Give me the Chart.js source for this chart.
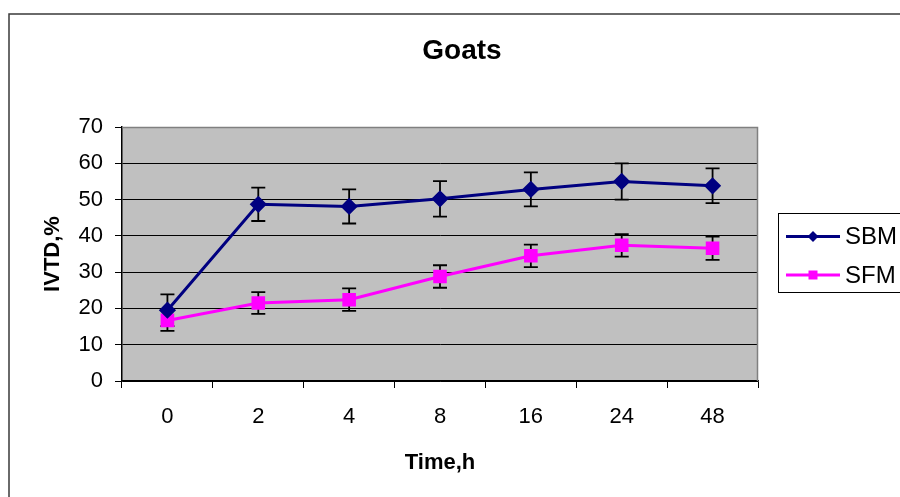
<!DOCTYPE html>
<html>
<head>
<meta charset="utf-8">
<script src="https://cdn.jsdelivr.net/npm/chart.js@4"></script>
<style>
  html, body { margin: 0; padding: 0; background: #fff; }
  #wrap { width: 900px; height: 497px; }
</style>
</head>
<body>
<div id="wrap"><canvas id="myChart" width="900" height="497"></canvas></div>
<script>
const times = ['0', '2', '4', '8', '16', '24', '48'];
const sbm = [19.5, 48.7, 48.1, 50.2, 52.8, 55.0, 53.8];
const sbmErr = [4.4, 4.6, 4.7, 4.9, 4.7, 5.0, 4.8];
const sfm = [16.7, 21.5, 22.4, 28.8, 34.5, 37.4, 36.6];
const sfmErr = [2.9, 3.0, 3.1, 3.1, 3.1, 3.1, 3.2];
const yTicks = [0, 10, 20, 30, 40, 50, 60, 70];
const titleText = 'Goats';

const fontName = '"Liberation Sans", Arial, sans-serif';

// grey plot area, frame round the whole chart, title, legend
const decor = {
  id: 'decor',
  beforeDraw(chart) {
    const c = chart.ctx, a = chart.chartArea;
    c.save();
    c.fillStyle = '#fff';
    c.fillRect(0, 0, chart.width, chart.height);
    c.fillStyle = '#c0c0c0';
    c.fillRect(a.left, a.top, a.right - a.left, a.bottom - a.top);
    c.strokeStyle = '#3a3a3a';
    c.lineWidth = 1.5;
    c.strokeRect(9, 14, 1000, 1000);
    c.fillStyle = '#000';
    c.font = 'bold 28px ' + fontName;
    c.textAlign = 'center';
    c.textBaseline = 'middle';
    c.fillText(titleText, 462, 51);
    c.restore();
  },
  beforeDatasetsDraw(chart) {
    const c = chart.ctx, a = chart.chartArea;
    c.save();
    c.strokeStyle = '#808080';
    c.lineWidth = 1.5;
    c.beginPath();
    c.moveTo(a.left, a.top + 0.5);
    c.lineTo(a.right - 0.5, a.top + 0.5);
    c.lineTo(a.right - 0.5, a.bottom);
    c.stroke();
    c.restore();
  },
  afterDraw(chart) {
    const c = chart.ctx;
    c.save();
    c.strokeStyle = '#000';
    c.lineWidth = 1;
    c.strokeRect(778.5, 213.5, 130, 79);
    chart.data.datasets.forEach((ds, i) => {
      const y = 236.5 + i * 38.5;
      c.strokeStyle = ds.borderColor;
      c.lineWidth = 3;
      c.beginPath();
      c.moveTo(786, y);
      c.lineTo(840, y);
      c.stroke();
      c.fillStyle = ds.borderColor;
      c.beginPath();
      if (ds.pointStyle === 'rectRot') {
        c.moveTo(813, y - 5.5);
        c.lineTo(818.5, y);
        c.lineTo(813, y + 5.5);
        c.lineTo(807.5, y);
        c.closePath();
      } else {
        c.rect(808.5, y - 4.5, 9, 9);
      }
      c.fill();
      c.fillStyle = '#000';
      c.font = '24px ' + fontName;
      c.textAlign = 'left';
      c.textBaseline = 'middle';
      c.fillText(ds.label, 845, y + 1);
    });
    c.restore();
  }
};

// error bars, drawn under the markers
const errorBars = {
  id: 'errorBars',
  beforeDatasetsDraw(chart) {
    const c = chart.ctx;
    const x = chart.scales.x, y = chart.scales.y;
    c.save();
    c.strokeStyle = '#000';
    c.lineWidth = 1.8;
    chart.data.datasets.forEach(ds => {
      ds.data.forEach((v, i) => {
        const px = x.getPixelForValue(i);
        const top = y.getPixelForValue(v + ds.err[i]);
        const bot = y.getPixelForValue(v - ds.err[i]);
        c.beginPath();
        c.moveTo(px, top); c.lineTo(px, bot);
        c.moveTo(px - 7, top); c.lineTo(px + 7, top);
        c.moveTo(px - 7, bot); c.lineTo(px + 7, bot);
        c.stroke();
      });
    });
    c.restore();
  }
};

new Chart(document.getElementById('myChart'), {
  type: 'line',
  data: {
    labels: times,
    datasets: [{
      label: 'SBM',
      data: sbm,
      err: sbmErr,
      borderColor: '#000080',
      backgroundColor: '#000080',
      borderWidth: 3,
      pointStyle: 'rectRot',
      pointRadius: 6.5,
      pointHoverRadius: 6.5,
      tension: 0
    }, {
      label: 'SFM',
      data: sfm,
      err: sfmErr,
      borderColor: '#ff00ff',
      backgroundColor: '#ff00ff',
      borderWidth: 3,
      pointStyle: 'rect',
      pointRadius: 7.5,
      pointHoverRadius: 7.5,
      tension: 0
    }]
  },
  options: {
    responsive: false,
    animation: false,
    events: [],
    layout: { padding: { left: 38, right: 142, top: 127, bottom: 16 } },
    plugins: {
      legend: { display: false },
      title: { display: false },
      tooltip: { enabled: false }
    },
    scales: {
      x: {
        offset: true,
        grid: { offset: true, drawOnChartArea: false, color: '#000', tickLength: 7 },
        border: { color: '#000', width: 1.5 },
        ticks: { color: '#000', padding: 16, font: { family: fontName, size: 22 } },
        title: {
          display: true, text: 'Time,h', color: '#000',
          font: { family: fontName, size: 22, weight: 'bold' },
          padding: { top: 0, bottom: 5 }
        },
        afterFit(scale) { scale.height = 100; }
      },
      y: {
        min: 0, max: 70,
        afterBuildTicks(scale) { scale.ticks = yTicks.map(v => ({ value: v })); },
        grid: { color: '#000', tickLength: 7 },
        border: { color: '#000', width: 1.5 },
        ticks: { color: '#000', padding: 12, font: { family: fontName, size: 22 } },
        title: {
          display: true, text: 'IVTD,%', color: '#000',
          font: { family: fontName, size: 22, weight: 'bold' },
          padding: { top: 2, bottom: 0 }
        },
        afterFit(scale) { scale.width = 84; }
      }
    }
  },
  plugins: [decor, errorBars]
});
</script>
</body>
</html>
